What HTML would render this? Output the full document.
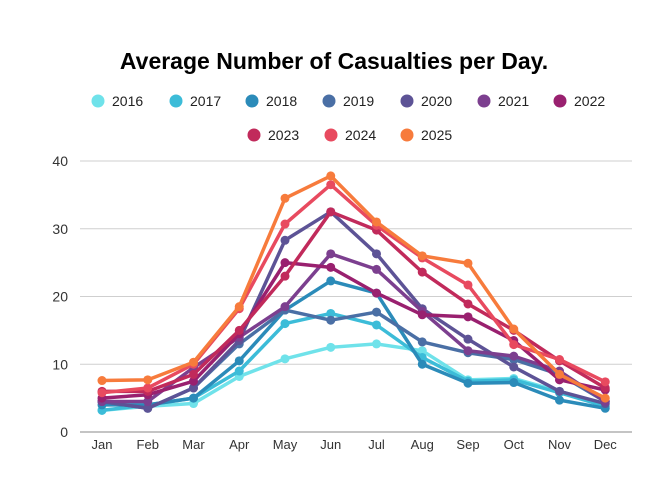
<!DOCTYPE html><html><head><meta charset="utf-8"><style>body{margin:0;background:#fff}svg{display:block;font-family:"Liberation Sans",sans-serif}</style></head><body>
<svg id="s" width="665" height="501" xmlns="http://www.w3.org/2000/svg">
<rect width="665" height="501" fill="#fff"/>
<text x="334" y="69" text-anchor="middle" font-size="23" font-weight="bold" fill="#000">Average Number of Casualties per Day.</text>
</svg>
<script>
const s=document.getElementById('s'),NS='http://www.w3.org/2000/svg';
function el(t,a,txt){const e=document.createElementNS(NS,t);for(const k in a)e.setAttribute(k,a[k]);if(txt!=null)e.textContent=txt;s.appendChild(e);return e;}
const y=v=>432-v*6.775, xs=i=>102+i*45.75;
[0,10,20,30,40].forEach(v=>{el('line',{x1:80,x2:632,y1:y(v),y2:y(v),stroke:v?'#cfcfcf':'#888','stroke-width':1});el('text',{x:68,y:y(v)+5,'text-anchor':'end','font-size':14,fill:'#333'},v);});
['Jan','Feb','Mar','Apr','May','Jun','Jul','Aug','Sep','Oct','Nov','Dec'].forEach((m,i)=>el('text',{x:xs(i),y:449,'text-anchor':'middle','font-size':13,fill:'#333'},m));
const D=[
['2016','#6fe2ea',[3.2,3.8,4.2,8.2,10.8,12.5,13,12,7.7,7.9,6,4]],
['2017','#3cbcd8',[3.2,4,5,9,16,17.5,15.8,11,7.5,7.7,5.8,3.8]],
['2018','#2b8bb9',[4,4,5,10.5,18,22.3,20.5,10,7.2,7.3,4.7,3.5]],
['2019','#4a6fa5',[4.5,3.5,6.5,13,18,16.5,17.7,13.3,11.7,10.7,8.5,4.5]],
['2020','#5d5396',[4.5,3.5,6.5,13.5,28.3,32.5,26.3,18.2,13.7,9.6,6,4.2]],
['2021','#7c3f8f',[4.5,4.5,9.5,14,18.5,26.3,24,17.8,12,11.2,9,4.5]],
['2022','#99206f',[5,5.5,7.5,14.5,25,24.3,20.5,17.3,17,13.5,7.7,6.2]],
['2023','#c12a5b',[6,6,8.5,15,23,32.5,29.8,23.6,18.9,15,10.5,6.5]],
['2024','#e84a5f',[5.8,6.5,10,18.2,30.7,36.5,30.5,25.7,21.7,12.9,10.7,7.4]],
['2025','#f77b3c',[7.6,7.7,10.3,18.5,34.5,37.8,31,26,24.9,15.2,8.5,5]]];
D.forEach(([n,c,v])=>{el('polyline',{points:v.map((d,i)=>xs(i)+','+y(d)).join(' '),fill:'none',stroke:c,'stroke-width':3.5,'stroke-linejoin':'round'});v.forEach((d,i)=>el('circle',{cx:xs(i),cy:y(d),r:4.5,fill:c}));});
const L=[[98,101],[176,101],[252,101],[329,101],[407,101],[484,101],[560,101],[254,135],[331,135],[407,135]];
D.forEach(([n,c],i)=>{const[x,yy]=L[i];el('circle',{cx:x,cy:yy,r:6.5,fill:c});el('text',{x:x+14,y:yy+5,'font-size':14,fill:'#222'},n);});
</script></body></html>
